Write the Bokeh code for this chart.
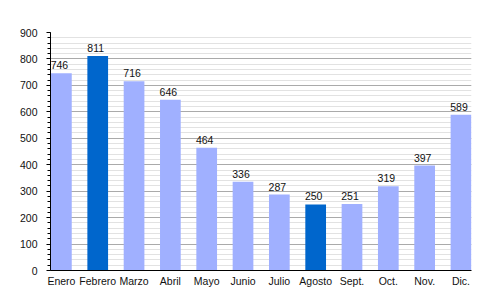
from bokeh.plotting import figure
from bokeh.models import Range1d, FixedTicker, ColumnDataSource
from bokeh.core.properties import value
from bokeh.embed import file_html
from bokeh.resources import INLINE

months = ["Enero", "Febrero", "Marzo", "Abril", "Mayo", "Junio", "Julio",
          "Agosto", "Sept.", "Oct.", "Nov.", "Dic."]
values = [746, 811, 716, 646, 464, 336, 287, 250, 251, 319, 397, 589]
highlight = ["Febrero", "Agosto"]
y_ticks = [0, 100, 200, 300, 400, 500, 600, 700, 800, 900]

light = "#A0B0FF"
dark = "#0066CC"
FONT = "Liberation Sans"

xs = list(range(len(months)))
colors = [dark if m in highlight else light for m in months]
src = ColumnDataSource(dict(x=xs, top=values, color=colors,
                            label=[str(v) for v in values]))

p = figure(width=500, height=300, output_backend="svg", toolbar_location=None,
           x_range=Range1d(-0.3, 11.29), y_range=Range1d(0, 900),
           min_border_left=50, min_border_right=29, min_border_top=32,
           min_border_bottom=30)
p.outline_line_color = None
p.background_fill_color = "white"

p.vbar(x="x", top="top", width=0.57, bottom=0, color="color", line_color=None, source=src)
p.text(x="x", y="top", text="label", source=src, x_offset=-2, y_offset=-4,
       text_align="center", text_baseline="bottom", text_font=value(FONT),
       text_font_size="10.5px", text_color="#111111")

# y axis
p.yaxis.ticker = FixedTicker(ticks=y_ticks, minor_ticks=list(range(0, 901, 20)))
p.yaxis.axis_line_color = "black"
p.yaxis.major_tick_out = 4
p.yaxis.major_tick_in = 0
p.yaxis.minor_tick_out = 3
p.yaxis.minor_tick_in = 0
p.yaxis.major_tick_line_color = "black"
p.yaxis.minor_tick_line_color = "black"
p.yaxis.major_label_text_font = FONT
p.yaxis.major_label_text_font_size = "10.5px"
p.yaxis.major_label_text_color = "#111111"
p.yaxis.major_label_standoff = 9

# x axis
p.xaxis.ticker = FixedTicker(ticks=xs)
p.xaxis.major_label_overrides = {i: m for i, m in enumerate(months)}
p.xaxis.major_tick_out = 0
p.xaxis.major_tick_in = 0
p.xaxis.minor_tick_line_color = None
p.xaxis.axis_line_color = "black"
p.xaxis.major_label_text_font = FONT
p.xaxis.major_label_text_font_size = "10.5px"
p.xaxis.major_label_text_color = "#111111"
p.xaxis.major_label_standoff = 4

p.xgrid.grid_line_color = None
p.ygrid.grid_line_color = "#AAAAAA"
p.ygrid.minor_grid_line_color = "#E2E2E2"
p.ygrid.level = "underlay"

open("out.html", "w").write(file_html(p, INLINE))
